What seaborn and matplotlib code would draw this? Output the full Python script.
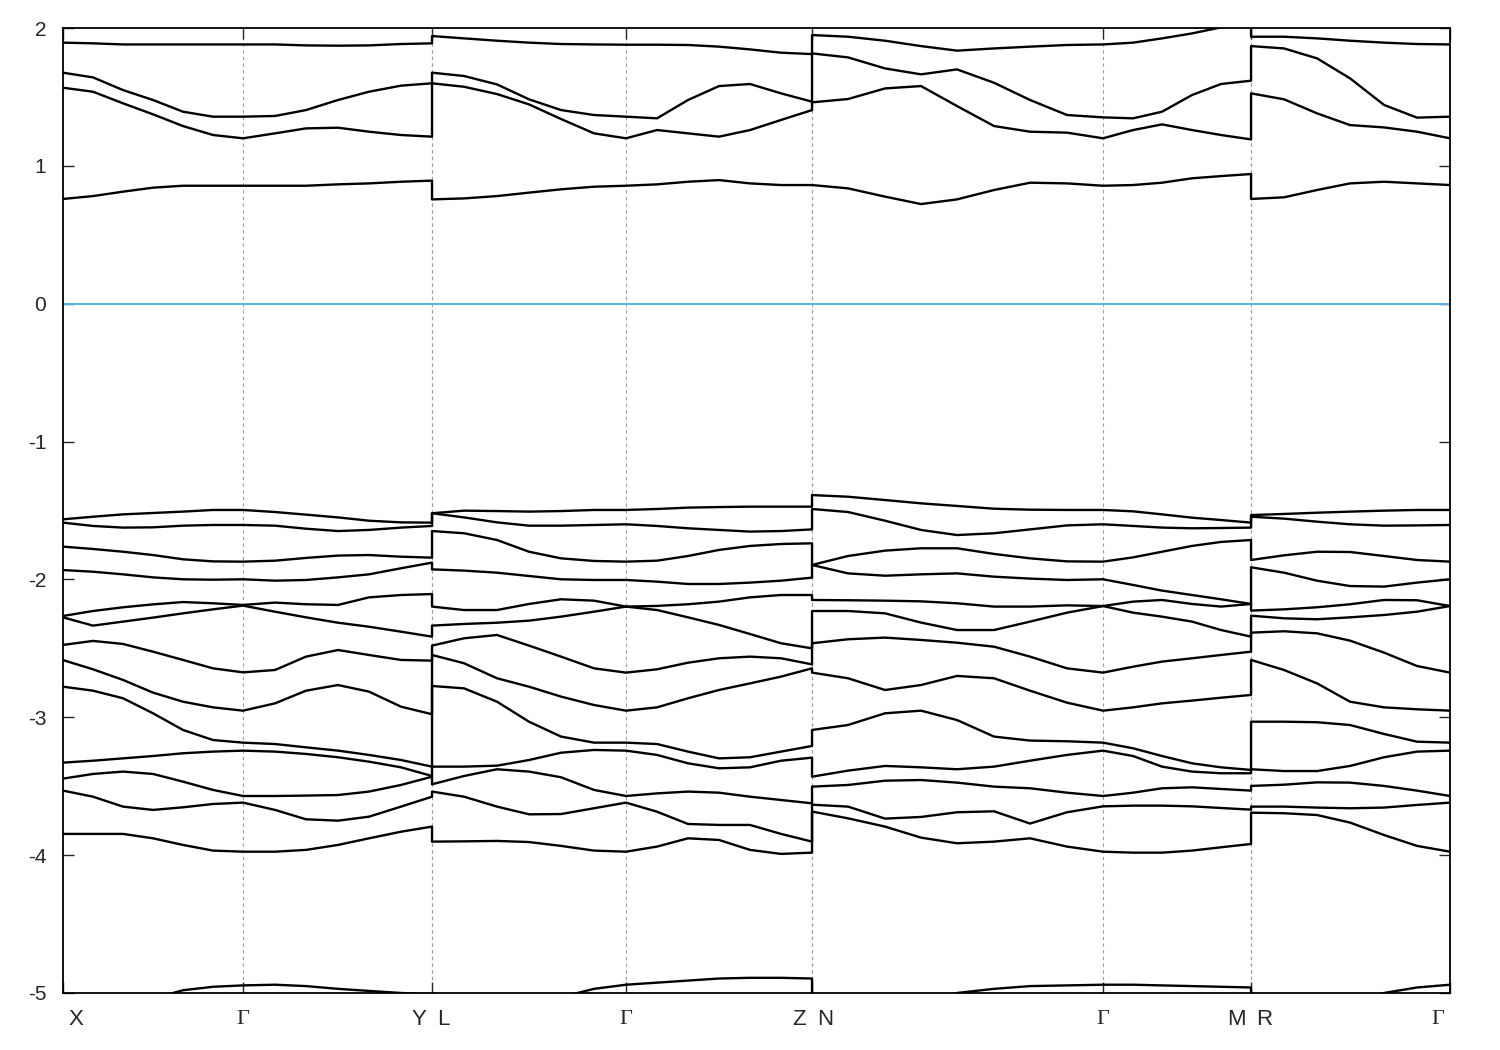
import matplotlib
matplotlib.use('Agg')
import matplotlib.pyplot as plt
import pandas as pd
import seaborn as sns

# k-path distance of each sampled point, one list per piece of the path
k_xgy = [0.000, 0.030, 0.060, 0.090, 0.120, 0.150, 0.180, 0.212, 0.243, 0.275, 0.306, 0.338, 0.369]
k_lgz = [0.369, 0.401, 0.434, 0.466, 0.498, 0.531, 0.563, 0.594, 0.625, 0.656, 0.687, 0.718, 0.749]
k_ngm = [0.749, 0.785, 0.822, 0.858, 0.894, 0.931, 0.967, 1.004, 1.040, 1.070, 1.099, 1.129, 1.158, 1.188]
k_rg = [1.188, 1.221, 1.254, 1.287, 1.321, 1.354, 1.387]

# high-symmetry points
sym_labels = ['X', 'Γ', 'Y', 'L', 'Γ', 'Z', 'N', 'Γ', 'M', 'R', 'Γ']
sym_k = [0.000, 0.180, 0.369, 0.369, 0.563, 0.749, 0.749, 1.040, 1.188, 1.188, 1.387]

# band energies (eV, relative to E_F), same band order in every piece
e_xgy = [
    [1.894, 1.889, 1.881, 1.881, 1.881, 1.881, 1.881, 1.881, 1.874, 1.872, 1.874, 1.884, 1.889],
    [1.676, 1.642, 1.550, 1.478, 1.393, 1.357, 1.357, 1.362, 1.405, 1.478, 1.538, 1.582, 1.599],
    [1.567, 1.538, 1.454, 1.374, 1.289, 1.224, 1.200, 1.236, 1.272, 1.277, 1.248, 1.224, 1.212],
    [0.760, 0.781, 0.813, 0.842, 0.856, 0.856, 0.856, 0.856, 0.856, 0.866, 0.873, 0.885, 0.893],
    [-1.564, -1.545, -1.528, -1.518, -1.508, -1.496, -1.496, -1.511, -1.530, -1.550, -1.574, -1.586, -1.588],
    [-1.588, -1.612, -1.624, -1.622, -1.610, -1.605, -1.605, -1.610, -1.632, -1.649, -1.641, -1.624, -1.612],
    [-1.762, -1.779, -1.799, -1.823, -1.854, -1.869, -1.871, -1.864, -1.844, -1.827, -1.823, -1.835, -1.842],
    [-1.932, -1.944, -1.963, -1.985, -1.999, -2.002, -1.999, -2.009, -2.004, -1.985, -1.963, -1.919, -1.878],
    [-2.265, -2.229, -2.202, -2.181, -2.164, -2.173, -2.185, -2.168, -2.180, -2.185, -2.130, -2.113, -2.106],
    [-2.275, -2.335, -2.306, -2.277, -2.246, -2.217, -2.190, -2.234, -2.275, -2.314, -2.343, -2.379, -2.415],
    [-2.475, -2.446, -2.468, -2.524, -2.584, -2.645, -2.674, -2.657, -2.560, -2.512, -2.548, -2.584, -2.589],
    [-2.585, -2.652, -2.729, -2.821, -2.887, -2.928, -2.952, -2.899, -2.807, -2.766, -2.814, -2.923, -2.978],
    [-2.778, -2.807, -2.862, -2.971, -3.092, -3.165, -3.184, -3.194, -3.218, -3.242, -3.273, -3.310, -3.358],
    [-3.329, -3.315, -3.298, -3.281, -3.261, -3.249, -3.242, -3.249, -3.266, -3.290, -3.322, -3.363, -3.426],
    [-3.445, -3.411, -3.394, -3.411, -3.467, -3.527, -3.571, -3.571, -3.568, -3.564, -3.539, -3.491, -3.431],
    [-3.532, -3.576, -3.648, -3.672, -3.653, -3.629, -3.619, -3.672, -3.740, -3.750, -3.721, -3.648, -3.576],
    [-3.846, -3.846, -3.846, -3.878, -3.926, -3.967, -3.975, -3.975, -3.962, -3.926, -3.878, -3.830, -3.793],
    [-5.20, -5.15, -5.10, -5.04, -4.98, -4.955, -4.945, -4.94, -4.95, -4.97, -4.985, -5.00, -5.01],
]

e_lgz = [
    [1.942, 1.925, 1.908, 1.894, 1.884, 1.881, 1.879, 1.879, 1.877, 1.865, 1.845, 1.821, 1.811],
    [1.676, 1.652, 1.591, 1.483, 1.405, 1.369, 1.357, 1.345, 1.478, 1.579, 1.594, 1.526, 1.466],
    [1.599, 1.574, 1.521, 1.446, 1.340, 1.236, 1.200, 1.260, 1.236, 1.212, 1.260, 1.333, 1.405],
    [0.757, 0.764, 0.781, 0.806, 0.830, 0.849, 0.856, 0.866, 0.885, 0.897, 0.873, 0.861, 0.861],
    [-1.520, -1.501, -1.504, -1.508, -1.504, -1.496, -1.496, -1.489, -1.479, -1.475, -1.472, -1.472, -1.472],
    [-1.520, -1.550, -1.586, -1.610, -1.610, -1.605, -1.600, -1.612, -1.629, -1.641, -1.653, -1.649, -1.637],
    [-1.649, -1.665, -1.714, -1.799, -1.847, -1.866, -1.871, -1.864, -1.830, -1.786, -1.757, -1.743, -1.738],
    [-1.927, -1.936, -1.951, -1.975, -1.999, -2.004, -2.004, -2.016, -2.033, -2.033, -2.023, -2.009, -1.987],
    [-2.197, -2.222, -2.222, -2.178, -2.144, -2.154, -2.197, -2.192, -2.180, -2.161, -2.130, -2.113, -2.113],
    [-2.335, -2.323, -2.314, -2.299, -2.270, -2.234, -2.197, -2.222, -2.275, -2.330, -2.396, -2.463, -2.500],
    [-2.480, -2.427, -2.403, -2.480, -2.560, -2.645, -2.676, -2.652, -2.604, -2.572, -2.560, -2.572, -2.616],
    [-2.548, -2.608, -2.717, -2.778, -2.850, -2.911, -2.952, -2.928, -2.862, -2.802, -2.754, -2.705, -2.645],
    [-2.773, -2.790, -2.887, -3.032, -3.140, -3.184, -3.184, -3.194, -3.249, -3.298, -3.290, -3.249, -3.208],
    [-3.358, -3.358, -3.351, -3.310, -3.257, -3.237, -3.242, -3.273, -3.334, -3.370, -3.363, -3.315, -3.293],
    [-3.486, -3.426, -3.377, -3.394, -3.435, -3.527, -3.571, -3.552, -3.539, -3.547, -3.576, -3.600, -3.624],
    [-3.539, -3.576, -3.648, -3.704, -3.702, -3.660, -3.619, -3.685, -3.774, -3.781, -3.781, -3.846, -3.902],
    [-3.902, -3.900, -3.897, -3.905, -3.933, -3.967, -3.975, -3.938, -3.878, -3.890, -3.962, -3.991, -3.982],
    [-5.30, -5.25, -5.20, -5.12, -5.03, -4.97, -4.94, -4.925, -4.91, -4.895, -4.89, -4.89, -4.895],
]

e_ngm = [
    [1.949, 1.937, 1.908, 1.869, 1.836, 1.852, 1.865, 1.877, 1.881, 1.894, 1.925, 1.961, 2.005, 2.020],
    [1.816, 1.787, 1.707, 1.664, 1.700, 1.603, 1.478, 1.369, 1.352, 1.345, 1.393, 1.514, 1.594, 1.618],
    [1.461, 1.485, 1.562, 1.579, 1.434, 1.289, 1.248, 1.241, 1.200, 1.260, 1.301, 1.260, 1.224, 1.192],
    [0.861, 0.837, 0.777, 0.723, 0.757, 0.825, 0.878, 0.873, 0.856, 0.861, 0.878, 0.910, 0.926, 0.941],
    [-1.388, -1.400, -1.424, -1.448, -1.467, -1.487, -1.494, -1.496, -1.496, -1.506, -1.528, -1.552, -1.569, -1.588],
    [-1.489, -1.511, -1.574, -1.641, -1.678, -1.665, -1.637, -1.608, -1.600, -1.612, -1.624, -1.629, -1.627, -1.624],
    [-1.895, -1.830, -1.791, -1.774, -1.774, -1.815, -1.847, -1.869, -1.871, -1.840, -1.799, -1.757, -1.728, -1.714],
    [-1.895, -1.956, -1.973, -1.963, -1.956, -1.980, -1.994, -2.004, -1.999, -2.040, -2.081, -2.113, -2.144, -2.178],
    [-2.149, -2.151, -2.154, -2.159, -2.173, -2.197, -2.197, -2.188, -2.193, -2.161, -2.149, -2.178, -2.197, -2.178],
    [-2.229, -2.229, -2.246, -2.313, -2.367, -2.367, -2.306, -2.241, -2.193, -2.241, -2.270, -2.306, -2.367, -2.415],
    [-2.463, -2.434, -2.422, -2.439, -2.459, -2.488, -2.560, -2.645, -2.676, -2.633, -2.596, -2.572, -2.548, -2.524],
    [-2.676, -2.717, -2.802, -2.766, -2.700, -2.717, -2.807, -2.894, -2.952, -2.928, -2.899, -2.879, -2.858, -2.838],
    [-3.092, -3.056, -2.971, -2.952, -3.020, -3.140, -3.169, -3.174, -3.184, -3.225, -3.281, -3.334, -3.363, -3.382],
    [-3.431, -3.387, -3.353, -3.363, -3.377, -3.358, -3.315, -3.273, -3.242, -3.281, -3.358, -3.394, -3.406, -3.406],
    [-3.503, -3.491, -3.460, -3.455, -3.474, -3.503, -3.515, -3.547, -3.571, -3.547, -3.515, -3.508, -3.520, -3.532],
    [-3.634, -3.648, -3.735, -3.723, -3.689, -3.682, -3.771, -3.689, -3.646, -3.641, -3.641, -3.646, -3.658, -3.670],
    [-3.684, -3.733, -3.793, -3.873, -3.914, -3.902, -3.878, -3.938, -3.975, -3.982, -3.982, -3.967, -3.943, -3.919],
    [-5.30, -5.25, -5.15, -5.07, -5.00, -4.97, -4.95, -4.945, -4.94, -4.94, -4.945, -4.95, -4.955, -4.96],
]

e_rg = [
    [1.937, 1.937, 1.925, 1.908, 1.894, 1.884, 1.881],
    [1.869, 1.852, 1.780, 1.635, 1.442, 1.350, 1.357],
    [1.526, 1.483, 1.381, 1.296, 1.279, 1.248, 1.200],
    [0.760, 0.772, 0.825, 0.873, 0.885, 0.873, 0.861],
    [-1.533, -1.525, -1.516, -1.508, -1.501, -1.496, -1.496],
    [-1.545, -1.559, -1.581, -1.600, -1.610, -1.608, -1.605],
    [-1.859, -1.825, -1.799, -1.801, -1.830, -1.859, -1.871],
    [-1.912, -1.951, -2.009, -2.048, -2.052, -2.023, -1.999],
    [-2.226, -2.217, -2.202, -2.180, -2.149, -2.151, -2.193],
    [-2.263, -2.282, -2.289, -2.275, -2.258, -2.234, -2.193],
    [-2.386, -2.376, -2.391, -2.444, -2.531, -2.628, -2.676],
    [-2.584, -2.657, -2.754, -2.887, -2.928, -2.942, -2.952],
    [-3.032, -3.032, -3.036, -3.056, -3.121, -3.177, -3.184],
    [-3.377, -3.390, -3.390, -3.353, -3.290, -3.249, -3.242],
    [-3.498, -3.489, -3.472, -3.474, -3.498, -3.532, -3.571],
    [-3.648, -3.648, -3.655, -3.660, -3.655, -3.636, -3.619],
    [-3.692, -3.696, -3.709, -3.764, -3.854, -3.933, -3.975],
    [-5.15, -5.13, -5.10, -5.06, -5.00, -4.96, -4.94],
]

# one long table: every band runs the whole path, so the jumps at the
# path breaks show up as vertical segments like in the gnuplot original
k_all = k_xgy + k_lgz + k_ngm + k_rg
rows = []
for b in range(len(e_xgy)):
    e_all = e_xgy[b] + e_lgz[b] + e_ngm[b] + e_rg[b]
    for k, e in zip(k_all, e_all):
        rows.append({'k': k, 'E': e, 'band': b})
df = pd.DataFrame(rows)

sns.set_style('ticks')
plt.rcParams['font.family'] = ['Liberation Sans', 'DejaVu Sans']
plt.rcParams['axes.unicode_minus'] = False

fig = plt.figure(figsize=(15, 10.5), dpi=100)
ax = fig.add_axes([0.042, 0.0543, 0.9247, 0.919])

for k in sym_k[1:-1]:
    ax.axvline(k, color='#a0a0a0', lw=0.8, ls=(0, (3, 3)), zorder=0)
ax.axhline(0, color='#56b4e9', lw=1.4, zorder=1)

sns.lineplot(data=df, x='k', y='E', units='band', estimator=None, sort=False,
             color='black', lw=1.7, ax=ax)

ax.set_xlim(sym_k[0], sym_k[-1])
ax.set_ylim(-5, 2)
ax.set_yticks(range(-5, 3))
ax.set_xticks(sorted(set(sym_k)))
ax.set_xticklabels([])
ax.set_xlabel('')
ax.set_ylabel('')
ax.tick_params(axis='y', direction='in', length=8, width=1, right=True, labelsize=15, pad=12)
ax.tick_params(axis='x', direction='in', length=8, width=1, top=True)
for s in ax.spines.values():
    s.set_linewidth(1.3)
    s.set_color('black')

# labels under the axis, nudged off the breaks like the original
align = ['left', 'center', 'right', 'left', 'center', 'right', 'left', 'center', 'right', 'left', 'right']
for lab, k, ha in zip(sym_labels, sym_k, align):
    dx = {'left': 4, 'center': 0, 'right': -4}[ha]
    fam = ['Liberation Serif', 'DejaVu Serif'] if lab == 'Γ' else ['Liberation Sans', 'DejaVu Sans']
    ax.annotate(lab, xy=(k, 0), xycoords=('data', 'axes fraction'),
                xytext=(dx, -19), textcoords='offset points',
                ha=ha, va='center', fontsize=16, family=fam)

fig.savefig('out.png', dpi=100)
plt.close(fig)
